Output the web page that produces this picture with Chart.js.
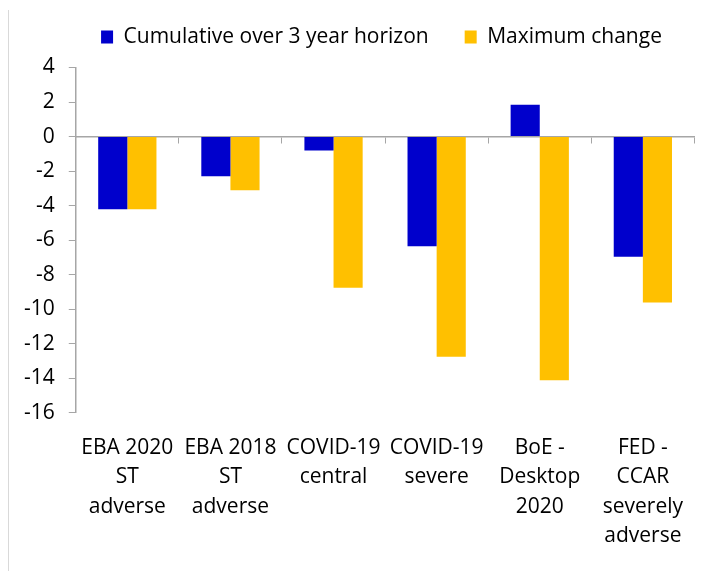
<!DOCTYPE html>
<html>
<head>
<meta charset="utf-8">
<script src="https://cdn.jsdelivr.net/npm/chart.js@4"></script>
<style>
  body { margin: 0; background: #fff; }
  #wrap { position: relative; width: 703px; height: 571px; }
  #frame { position: absolute; left: 8px; top: 10px; width: 1px; height: 561px; background: #d9d9d9; }
  canvas { position: absolute; left: 0; top: 0; }
</style>
</head>
<body>
<div id="wrap">
  <div id="frame"></div>
  <canvas id="chart" width="703" height="571"></canvas>
</div>
<script>
// scenario categories (multi-line labels)
const categories = [
    ['EBA 2020', 'ST', 'adverse'],
    ['EBA 2018', 'ST', 'adverse'],
    ['COVID-19', 'central'],
    ['COVID-19', 'severe'],
    ['BoE -', 'Desktop', '2020'],
    ['FED -', 'CCAR', 'severely', 'adverse']
];
const cumulative = [-4.2, -2.3, -0.8, -6.35, 1.85, -6.95];
const maxChange = [-4.2, -3.1, -8.75, -12.75, -14.1, -9.6];
const yTicks = [4, 2, 0, -2, -4, -6, -8, -10, -12, -14, -16];

const fontFamily = '"Open Sans", sans-serif';

// more room under the legend, and nudge it a bit to the right
const legendTweak = {
    id: 'legendTweak',
    beforeInit(chart) {
        const fit = chart.legend.fit;
        chart.legend.fit = function() {
            fit.call(this);
            this.height += 10;
        };
    },
    afterLayout(chart) {
        chart.legend.left += 25;
        chart.legend.right += 25;
    }
};

document.addEventListener("DOMContentLoaded", function() {
    const ctx = document.getElementById('chart').getContext('2d');

    new Chart(ctx, {
        type: 'bar',
        data: {
            labels: categories,
            datasets: [{
                label: 'Cumulative over 3 year horizon',
                data: cumulative,
                backgroundColor: '#0000CC'
            }, {
                label: 'Maximum change',
                data: maxChange,
                backgroundColor: '#FFC000'
            }]
        },
        plugins: [legendTweak],
        options: {
            responsive: false,
            animation: false,
            layout: {
                padding: { left: 10, right: 0, top: -9.5, bottom: 0 }
            },
            datasets: {
                bar: {
                    categoryPercentage: 0.565,
                    barPercentage: 1.0
                }
            },
            plugins: {
                legend: {
                    position: 'top',
                    labels: {
                        boxWidth: 12,
                        boxHeight: 13,
                        padding: 36,
                        color: '#000',
                        font: { family: fontFamily, size: 21 }
                    }
                },
                tooltip: { enabled: false }
            },
            scales: {
                // axis line through zero with category separator ticks
                x: {
                    position: { y: 0 },
                    grid: {
                        offset: true,
                        drawOnChartArea: false,
                        drawTicks: true,
                        tickLength: 6,
                        color: '#a6a6a6'
                    },
                    border: { color: '#a6a6a6', width: 1.5 },
                    ticks: { display: false }
                },
                // category labels at the bottom
                x2: {
                    type: 'category',
                    labels: categories,
                    position: 'bottom',
                    grid: { display: false, drawTicks: false },
                    border: { display: false },
                    ticks: {
                        padding: 20,
                        maxRotation: 0,
                        autoSkip: false,
                        color: '#000',
                        font: { family: fontFamily, size: 21, lineHeight: 1.405 }
                    }
                },
                y: {
                    min: -16,
                    max: 4,
                    afterBuildTicks: function(axis) {
                        axis.ticks = yTicks.map(v => ({ value: v }));
                    },
                    grid: {
                        drawOnChartArea: false,
                        drawTicks: true,
                        tickLength: 7,
                        color: '#a6a6a6'
                    },
                    border: { color: '#a6a6a6', width: 1.5 },
                    ticks: {
                        padding: 14,
                        color: '#000',
                        font: { family: fontFamily, size: 21 }
                    }
                }
            }
        }
    });
});
</script>
</body>
</html>
